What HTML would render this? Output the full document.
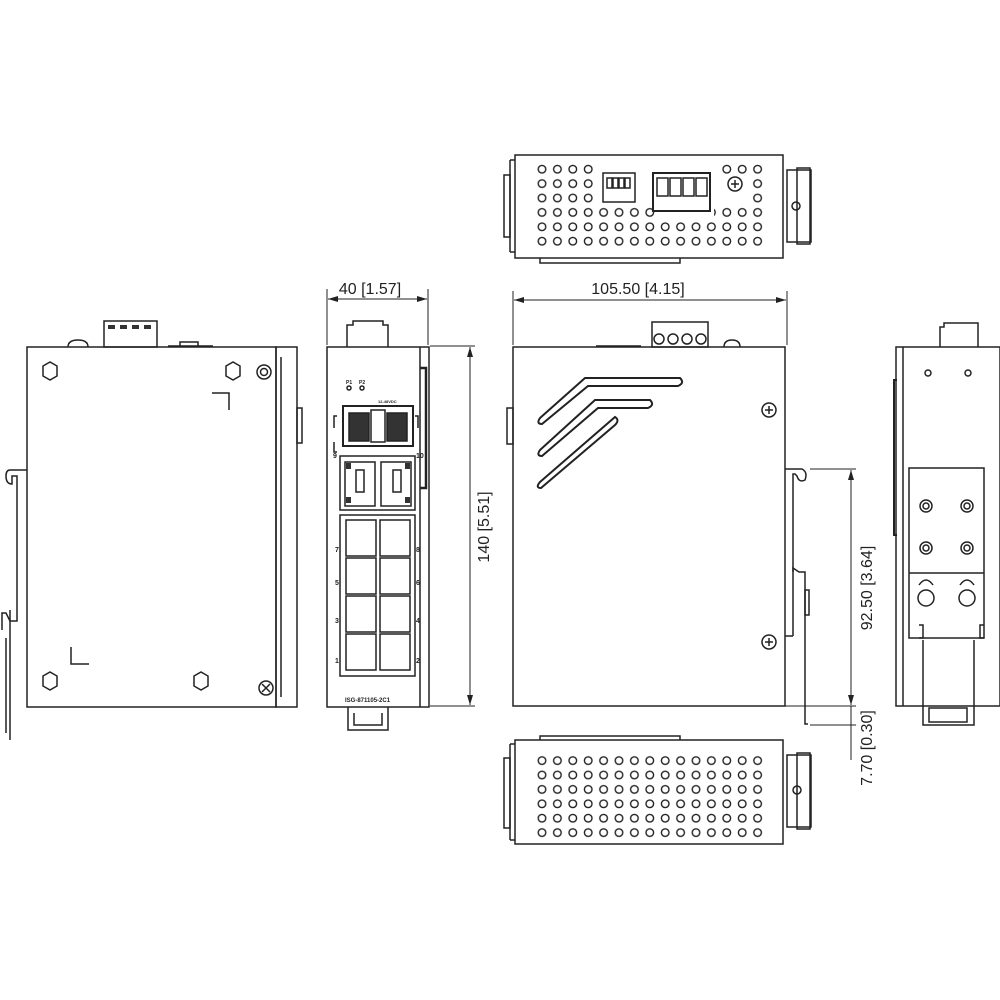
<!DOCTYPE html>
<html><head><meta charset="utf-8"><style>
html,body{margin:0;padding:0;background:#fff}
svg{display:block}
text{font-family:"Liberation Sans",sans-serif;fill:#222}
</style></head><body>
<svg width="1000" height="1000" viewBox="0 0 1000 1000" xmlns="http://www.w3.org/2000/svg">
<defs>
<pattern id="dots" x="534.3" y="162" width="15.4" height="14.4" patternUnits="userSpaceOnUse">
<circle cx="7.7" cy="7.2" r="3.8" fill="none" stroke="#222" stroke-width="1.4"/>
</pattern>
<marker id="ar" markerWidth="10" markerHeight="6" refX="10" refY="3" orient="auto"><path d="M0,0 L10,3 L0,6z" fill="#222"/></marker>
<marker id="al" markerWidth="10" markerHeight="6" refX="0" refY="3" orient="auto"><path d="M10,0 L0,3 L10,6z" fill="#222"/></marker>
</defs>
<g fill="none" stroke="#222" stroke-width="1.5">

<!-- ===== LEFT VIEW ===== -->
<rect x="27" y="347" width="249" height="360"/>
<rect x="276" y="347" width="21" height="360"/>
<line x1="281" y1="357" x2="281" y2="697"/>
<rect x="104" y="321" width="53" height="26"/>
<g fill="#333" stroke="none"><rect x="108" y="325" width="7" height="4"/><rect x="120" y="325" width="7" height="4"/><rect x="132" y="325" width="7" height="4"/><rect x="144" y="325" width="7" height="4"/></g>
<path d="M68,347 q0,-7 10,-7 q10,0 10,7"/>
<path d="M168,346 h45 M180,346 v-4 h18 v4"/>
<rect x="297" y="408" width="5" height="35"/>
<polygon points="43,366 50,362 57,366 57,376 50,380 43,376"/>
<polygon points="226,366 233,362 240,366 240,376 233,380 226,376"/>
<polygon points="43,676 50,672 57,676 57,686 50,690 43,686"/>
<polygon points="194,676 201,672 208,676 208,686 201,690 194,686"/>
<circle cx="264" cy="372" r="7"/><circle cx="264" cy="372" r="3.5"/>
<circle cx="266" cy="688" r="7"/><path d="M262,684 l8,8 M270,684 l-8,8"/>
<path d="M212,393 h17 v17"/>
<path d="M71,647 v17 h18"/>
<path d="M27,470 h-17 q-4,0 -4,6 q0,8 6,8 v-8 h5 v145 h-7 l-4,-8 h-4 v17 M6,638 v95"/>
<path d="M10,610 v130"/>

<!-- ===== FRONT VIEW ===== -->
<rect x="327" y="347" width="102" height="360"/>
<line x1="420" y1="347" x2="420" y2="707"/>
<path d="M420,368 h6 v120 h-6" stroke-width="2.5"/>
<path d="M347,347 v-22 h6 v-4 h30 v4 h5 v22"/>
<path d="M348,707 v23 h40 v-23 M354,713 v12 h28 v-12"/>
<rect x="343" y="406" width="70" height="40" stroke-width="2"/>
<rect x="349" y="413" width="20" height="28" fill="#333"/>
<rect x="387" y="413" width="20" height="28" fill="#333"/>
<rect x="371" y="410" width="14" height="32" fill="#fff"/>
<path d="M334,428 v-12 h3 M334,442 v10 h3 M418,428 v-12 h-3"/>
<rect x="340" y="456" width="75" height="54"/>
<rect x="345" y="462" width="30" height="44"/><rect x="381" y="462" width="30" height="44"/>
<rect x="356" y="470" width="8" height="22"/><rect x="393" y="470" width="8" height="22"/>
<g fill="#333" stroke="none"><rect x="346" y="463" width="5" height="6"/><rect x="346" y="497" width="5" height="6"/><rect x="405" y="463" width="5" height="6"/><rect x="405" y="497" width="5" height="6"/></g>
<rect x="340" y="515" width="75" height="161"/>
<g>
<rect x="346" y="520" width="30" height="36"/><rect x="380" y="520" width="30" height="36"/>
<rect x="346" y="558" width="30" height="36"/><rect x="380" y="558" width="30" height="36"/>
<rect x="346" y="596" width="30" height="36"/><rect x="380" y="596" width="30" height="36"/>
<rect x="346" y="634" width="30" height="36"/><rect x="380" y="634" width="30" height="36"/>
</g>
<circle cx="349" cy="388" r="2"/><circle cx="362" cy="388" r="2"/>

<!-- ===== SIDE VIEW ===== -->
<rect x="513" y="347" width="272" height="359"/>
<rect x="652" y="322" width="56" height="25"/>
<circle cx="659" cy="339" r="5"/><circle cx="673" cy="339" r="5"/><circle cx="687" cy="339" r="5"/><circle cx="701" cy="339" r="5"/>
<path d="M596,346 h45 M724,347 q0,-7 8,-7 q8,0 8,7"/>
<rect x="507" y="408" width="6" height="36"/>
<path d="M540,418 l45,-40 h95 q5,5 -2,8 h-90 l-46,38 q-6,0 -2,-6z" stroke-width="2"/>
<path d="M540,450 l55,-50 h55 q5,5 -2,8 h-50 l-56,48 q-6,0 -2,-6z" stroke-width="2"/>
<path d="M540,482 l75,-65 q5,3 0,8 l-74,63 q-6,0 -1,-6z" stroke-width="2"/>
<circle cx="769" cy="410" r="7"/><path d="M765,410 h8 M769,406 v8"/>
<circle cx="769" cy="642" r="7"/><path d="M765,642 h8 M769,638 v8"/>
<!-- DIN clip -->
<path d="M785,469 h17 q6,3 3,11 q-6,3 -8,-4 l-2,-2 h-2 v98"/>
<path d="M793,572 v-4 l6,4 h6 v152 h3"/>
<path d="M785,636 h8 M793,572 v64"/>
<rect x="805" y="590" width="4" height="25"/>

<!-- ===== TOP VIEW ===== -->
<rect x="515" y="155" width="268" height="103"/>
<path d="M510,160 h5 M510,252 h5 M510,160 v92" />
<path d="M504,175 h6 v62 h-6z"/>
<path d="M540,258 v5 h140 v-5"/>
<rect x="534" y="162" width="232" height="88" fill="url(#dots)" stroke="none"/>
<rect x="598" y="163" width="46" height="42" fill="#fff" stroke="none"/>
<rect x="644" y="163" width="76" height="42" fill="#fff" stroke="none"/>
<rect x="658" y="205" width="56" height="14" fill="#fff" stroke="none"/>
<rect x="720" y="176" width="30" height="30" fill="#fff" stroke="none"/>
<rect x="603" y="173" width="32" height="29"/>
<rect x="607" y="178" width="5" height="10"/><rect x="613" y="178" width="5" height="10"/><rect x="619" y="178" width="5" height="10"/><rect x="625" y="178" width="5" height="10"/>
<rect x="653" y="173" width="57" height="38" stroke-width="2"/>
<rect x="657" y="178" width="11" height="18"/><rect x="670" y="178" width="11" height="18"/><rect x="683" y="178" width="11" height="18"/><rect x="696" y="178" width="11" height="18"/>
<circle cx="735" cy="184" r="7"/><path d="M731,184 h8 M735,180 v8"/>
<rect x="787" y="170" width="24" height="72"/>
<rect x="797" y="168" width="13" height="76"/>
<circle cx="796" cy="206" r="4"/>

<!-- ===== BOTTOM VIEW ===== -->
<rect x="515" y="740" width="268" height="104"/>
<path d="M510,744 h5 M510,840 h5 M510,744 v96"/>
<path d="M504,758 h6 v70 h-6z"/>
<path d="M540,740 v-4 h140 v4"/>
<rect x="534" y="751" width="232" height="88" fill="url(#dots)" stroke="none" transform="translate(0,1)"/>
<rect x="787" y="755" width="24" height="72"/>
<rect x="797" y="753" width="13" height="76"/>
<circle cx="797" cy="790" r="4"/>

<!-- ===== RIGHT VIEW ===== -->
<rect x="896" y="347" width="104" height="359"/>
<line x1="903" y1="347" x2="903" y2="706"/>
<path d="M940,347 v-20 h4 v-4 h34 v24"/>
<circle cx="928" cy="373" r="3"/><circle cx="968" cy="373" r="3"/>
<rect x="909" y="468" width="75" height="170"/>
<line x1="909" y1="573" x2="984" y2="573"/>
<circle cx="926" cy="506" r="6"/><circle cx="926" cy="506" r="3"/>
<circle cx="967" cy="506" r="6"/><circle cx="967" cy="506" r="3"/>
<circle cx="926" cy="548" r="6"/><circle cx="926" cy="548" r="3"/>
<circle cx="967" cy="548" r="6"/><circle cx="967" cy="548" r="3"/>
<circle cx="926" cy="598" r="8"/><circle cx="967" cy="598" r="8"/>
<path d="M919,585 q7,-10 14,0 M960,585 q7,-10 14,0"/>
<path d="M919,638 h4 v-13 h-4 M984,638 h-4 v-13 h4"/>
<path d="M923,640 v85 h51 v-85"/>
<rect x="929" y="708" width="38" height="14"/>
<path d="M897,380 h-3 v155 h3" stroke-width="2"/>

<!-- ===== DIMENSIONS ===== -->
<g stroke-width="1">
<line x1="327" y1="289" x2="327" y2="345"/>
<line x1="428" y1="289" x2="428" y2="345"/>
<line x1="328" y1="299" x2="427" y2="299" marker-start="url(#al)" marker-end="url(#ar)"/>
<line x1="513" y1="291" x2="513" y2="345"/>
<line x1="787" y1="291" x2="787" y2="345"/>
<line x1="514" y1="300" x2="786" y2="300" marker-start="url(#al)" marker-end="url(#ar)"/>
<line x1="430" y1="346" x2="475" y2="346"/>
<line x1="430" y1="706" x2="475" y2="706"/>
<line x1="470" y1="347" x2="470" y2="705" marker-start="url(#al)" marker-end="url(#ar)"/>
<line x1="810" y1="469" x2="856" y2="469"/>
<line x1="785" y1="706" x2="856" y2="706"/>
<line x1="810" y1="725" x2="856" y2="725"/>
<line x1="851" y1="470" x2="851" y2="705" marker-start="url(#al)" marker-end="url(#ar)"/>
<line x1="851" y1="706" x2="851" y2="760"/>
</g>
</g>
<g fill="#222">
<text x="370" y="294" font-size="16" text-anchor="middle">40 [1.57]</text>
<text x="638" y="294" font-size="16" text-anchor="middle">105.50 [4.15]</text>
<text transform="translate(489,527) rotate(-90)" font-size="16" text-anchor="middle">140 [5.51]</text>
<text transform="translate(872,588) rotate(-90)" font-size="16" text-anchor="middle">92.50 [3.64]</text>
<text transform="translate(872,748) rotate(-90)" font-size="16" text-anchor="middle">7.70 [0.30]</text>
<g font-size="7" font-weight="bold">
<text x="335" y="552">7</text><text x="416" y="552">8</text>
<text x="335" y="585">5</text><text x="416" y="585">6</text>
<text x="335" y="623">3</text><text x="416" y="623">4</text>
<text x="335" y="663">1</text><text x="416" y="663">2</text>
<text x="333" y="458">9</text><text x="416" y="458">10</text>
<text x="346" y="384" font-size="5">P1</text><text x="359" y="384" font-size="5">P2</text>
<text x="378" y="403" font-size="4">12-48VDC</text>
<text x="345" y="702" font-size="6">ISG-871105-2C1</text>
</g>
</g>
</svg>
</body></html>
